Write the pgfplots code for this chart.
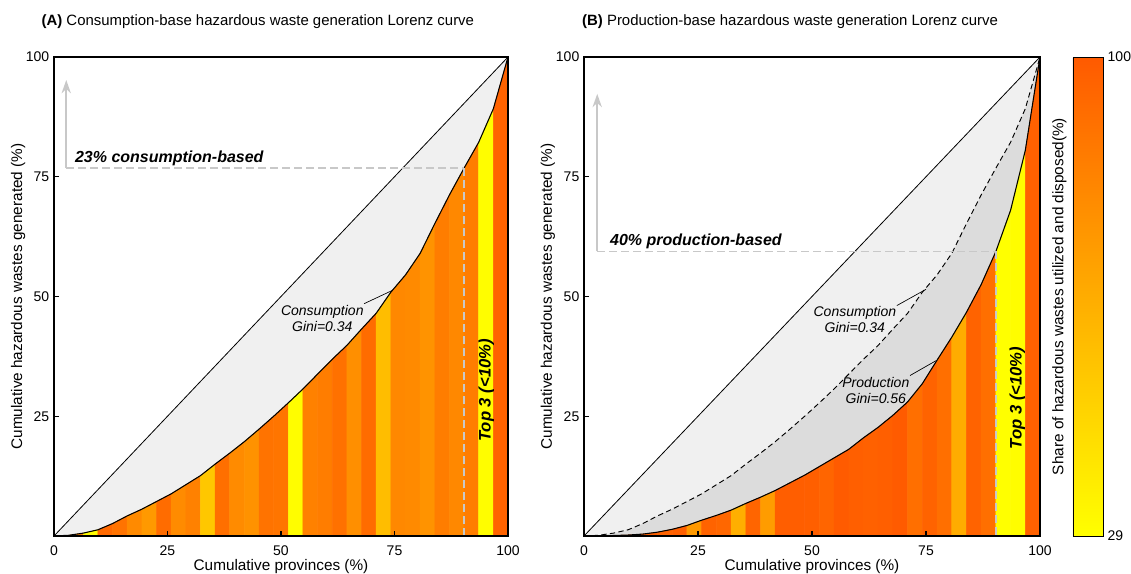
\documentclass[border=0pt]{standalone}
\usepackage{fontspec}
\setmainfont{Liberation Sans}
\usepackage{pgfplots}
\usepackage{pgfplotstable}
\pgfplotsset{compat=1.18}
\usepgfplotslibrary{patchplots}
\usetikzlibrary{arrows.meta}

\definecolor{lg}{HTML}{F0F0F0}
\definecolor{dg}{HTML}{DCDCDC}
\definecolor{dashg}{HTML}{C8C8C8}

% consumption-based Lorenz curve
\pgfplotstableread{
x y
0 0
3.226 0.15
6.452 0.6
9.677 1.3
12.903 2.6
16.129 4.2
19.355 5.6
22.581 7.2
25.806 8.8
29.032 10.7
32.258 12.6
35.484 15.0
38.710 17.3
41.935 19.7
45.161 22.3
48.387 25.0
51.613 27.8
54.839 30.7
58.065 33.8
61.290 36.9
64.516 39.8
67.742 43.2
70.968 46.5
74.194 50.9
77.419 54.5
80.645 59.0
83.871 65.2
87.097 71.2
90.323 76.8
93.548 82.2
96.774 89.2
100 100
}\cons

% production-based Lorenz curve
\pgfplotstableread{
x y
0 0
3.226 0.05
6.452 0.1
9.677 0.2
12.903 0.4
16.129 0.8
19.355 1.4
22.581 2.2
25.806 3.3
29.032 4.3
32.258 5.4
35.484 6.8
38.710 8.1
41.935 9.5
45.161 11.1
48.387 12.7
51.613 14.5
54.839 16.3
58.065 18.1
61.290 20.5
64.516 22.7
67.742 25.2
70.968 28.0
74.194 31.8
77.419 36.7
80.645 41.5
83.871 46.7
87.097 52.5
90.323 59.4
93.548 68.0
96.774 80.5
100 100
}\prod

% consumption bars: 4 corners per province, c = share utilized/disposed (%)
\pgfplotstableread{
x y c
0 0 85
3.226 0 85
3.226 0.15 85
0 0 85
3.226 0 82
6.452 0 82
6.452 0.6 82
3.226 0.15 82
6.452 0 30
9.677 0 30
9.677 1.3 30
6.452 0.6 30
9.677 0 93
12.903 0 93
12.903 2.6 93
9.677 1.3 93
12.903 0 89
16.129 0 89
16.129 4.2 89
12.903 2.6 89
16.129 0 79
19.355 0 79
19.355 5.6 79
16.129 4.2 79
19.355 0 72.5
22.581 0 72.5
22.581 7.2 72.5
19.355 5.6 72.5
22.581 0 92
25.806 0 92
25.806 8.8 92
22.581 7.2 92
25.806 0 78.5
29.032 0 78.5
29.032 10.7 78.5
25.806 8.8 78.5
29.032 0 83
32.258 0 83
32.258 12.6 83
29.032 10.7 83
32.258 0 53
35.484 0 53
35.484 15.0 53
32.258 12.6 53
35.484 0 90.5
38.710 0 90.5
38.710 17.3 90.5
35.484 15.0 90.5
38.710 0 78.5
41.935 0 78.5
41.935 19.7 78.5
38.710 17.3 78.5
41.935 0 75.5
45.161 0 75.5
45.161 22.3 75.5
41.935 19.7 75.5
45.161 0 89
48.387 0 89
48.387 25.0 89
45.161 22.3 89
48.387 0 88
51.613 0 88
51.613 27.8 88
48.387 25.0 88
51.613 0 30
54.839 0 30
54.839 30.7 30
51.613 27.8 30
54.839 0 83
58.065 0 83
58.065 33.8 83
54.839 30.7 83
58.065 0 84.5
61.290 0 84.5
61.290 36.9 84.5
58.065 33.8 84.5
61.290 0 89.5
64.516 0 89.5
64.516 39.8 89.5
61.290 36.9 89.5
64.516 0 77
67.742 0 77
67.742 43.2 77
64.516 39.8 77
67.742 0 92
70.968 0 92
70.968 46.5 92
67.742 43.2 92
70.968 0 57
74.194 0 57
74.194 50.9 57
70.968 46.5 57
74.194 0 80
77.419 0 80
77.419 54.5 80
74.194 50.9 80
77.419 0 79
80.645 0 79
80.645 59.0 79
77.419 54.5 79
80.645 0 75
83.871 0 75
83.871 65.2 75
80.645 59.0 75
83.871 0 84.5
87.097 0 84.5
87.097 71.2 84.5
83.871 65.2 84.5
87.097 0 80
90.323 0 80
90.323 76.8 80
87.097 71.2 80
90.323 0 84.5
93.548 0 84.5
93.548 82.2 84.5
90.323 76.8 84.5
93.548 0 30
96.774 0 30
96.774 89.2 30
93.548 82.2 30
96.774 0 95.5
100 0 95.5
100 100 95.5
96.774 89.2 95.5
}\cbars

% production bars
\pgfplotstableread{
x y c
0 0 97
3.226 0 97
3.226 0.05 97
0 0 97
3.226 0 97
6.452 0 97
6.452 0.1 97
3.226 0.05 97
6.452 0 97
9.677 0 97
9.677 0.2 97
6.452 0.1 97
9.677 0 96.5
12.903 0 96.5
12.903 0.4 96.5
9.677 0.2 96.5
12.903 0 97.5
16.129 0 97.5
16.129 0.8 97.5
12.903 0.4 97.5
16.129 0 95.5
19.355 0 95.5
19.355 1.4 95.5
16.129 0.8 95.5
19.355 0 97.5
22.581 0 97.5
22.581 2.2 97.5
19.355 1.4 97.5
22.581 0 72.5
25.806 0 72.5
25.806 3.3 72.5
22.581 2.2 72.5
25.806 0 95.5
29.032 0 95.5
29.032 4.3 95.5
25.806 3.3 95.5
29.032 0 94
32.258 0 94
32.258 5.4 94
29.032 4.3 94
32.258 0 63
35.484 0 63
35.484 6.8 63
32.258 5.4 63
35.484 0 95
38.710 0 95
38.710 8.1 95
35.484 6.8 95
38.710 0 71.5
41.935 0 71.5
41.935 9.5 71.5
38.710 8.1 71.5
41.935 0 98
45.161 0 98
45.161 11.1 98
41.935 9.5 98
45.161 0 98
48.387 0 98
48.387 12.7 98
45.161 11.1 98
48.387 0 97.5
51.613 0 97.5
51.613 14.5 97.5
48.387 12.7 97.5
51.613 0 95
54.839 0 95
54.839 16.3 95
51.613 14.5 95
54.839 0 99
58.065 0 99
58.065 18.1 99
54.839 16.3 99
58.065 0 97.5
61.290 0 97.5
61.290 20.5 97.5
58.065 18.1 97.5
61.290 0 96.5
64.516 0 96.5
64.516 22.7 96.5
61.290 20.5 96.5
64.516 0 97.5
67.742 0 97.5
67.742 25.2 97.5
64.516 22.7 97.5
67.742 0 99
70.968 0 99
70.968 28.0 99
67.742 25.2 99
70.968 0 90.5
74.194 0 90.5
74.194 31.8 90.5
70.968 28.0 90.5
74.194 0 95.5
77.419 0 95.5
77.419 36.7 95.5
74.194 31.8 95.5
77.419 0 90.5
80.645 0 90.5
80.645 41.5 90.5
77.419 36.7 90.5
80.645 0 64.5
83.871 0 64.5
83.871 46.7 64.5
80.645 41.5 64.5
83.871 0 95.5
87.097 0 95.5
87.097 52.5 95.5
83.871 46.7 95.5
87.097 0 90.5
90.323 0 90.5
90.323 59.4 90.5
87.097 52.5 90.5
90.323 0 29
93.548 0 29
93.548 68.0 29
90.323 59.4 29
93.548 0 30
96.774 0 30
96.774 80.5 30
93.548 68.0 30
96.774 0 96.5
100 0 96.5
100 100 96.5
96.774 80.5 96.5
}\pbars

\pgfplotsset{
  lorenz/.style={
    scale only axis, height=359.25pt,
    xmin=0, xmax=100, ymin=0, ymax=100,
    xtick={0,25,50,75,100}, ytick={25,50,75,100},
    xtick pos=bottom, ytick pos=left, tick align=inside,
    major tick length=3.5pt,
    tick style={black, line width=0.8pt},
    axis line style={line width=0.8pt},
    axis on top,
    /pgf/number format/assume math mode=true,
    ticklabel style={font=\fontsize{10.5}{12}\selectfont},
    xticklabel style={anchor=base, yshift=-14.5pt},
    label style={font=\fontsize{11.5}{13}\selectfont},
    xlabel style={at={(axis description cs:0.5,0)}, anchor=base, yshift=-26pt},
    xlabel={Cumulative provinces (\%)},
    ylabel={Cumulative hazardous wastes generated (\%)},
    colormap={hw}{rgb255=(255,255,0) rgb255=(255,90,0)},
    point meta min=29, point meta max=100,
  },
  barsty/.style={patch, patch type=rectangle, shader=flat, point meta=explicit},
}

\begin{document}
\begin{tikzpicture}
\path[use as bounding box] (0,0) rectangle (848.25pt,430.5pt);

% ---------------- Panel A ----------------
\begin{axis}[lorenz, at={(40.5pt,28.5pt)}, anchor=south west, width=340.5pt,
  ylabel style={at={(axis description cs:-0.079,0.5)}, anchor=center},
  title style={at={(axis description cs:0.449,1)}, anchor=base, yshift=17.5pt, font=\fontsize{11.2}{13}\selectfont},
  title={\textbf{(A)} Consumption-base hazardous waste generation Lorenz curve}]
  \addplot[fill=lg, draw=none] table[x=x,y=y] {\cons};
  \addplot[barsty] table[x=x,y=y,meta=c] {\cbars};
  \addplot[black, line width=0.6pt] coordinates {(0,0) (100,100)};
  \addplot[black, line width=0.8pt] table[x=x,y=y] {\cons};
  \draw[dashg, line width=1.1pt, dash pattern=on 6pt off 3pt] (axis cs:2.7,76.8) -- (axis cs:90.323,76.8);
  \draw[dashg, line width=1.1pt, dash pattern=on 6pt off 3pt] (axis cs:90.323,76.8) -- (axis cs:90.323,0);
  \draw[dashg, line width=1.3pt, -{Stealth[length=10pt,width=7pt]}] (axis cs:2.7,76.8) -- (axis cs:2.7,95.2);
  \node[anchor=base west, font=\fontsize{12}{14}\selectfont\bfseries\itshape] at (axis cs:3.6,78.0) {23\% consumption-based};
  \node[rotate=90, font=\fontsize{12.5}{14}\selectfont\bfseries\itshape] at (axis cs:95.2,30.4) {Top 3 (<10\%)};
  \node[align=center, font=\fontsize{10.5}{12}\selectfont\itshape] at (axis cs:59.1,45.4) {Consumption\\Gini=0.34};
  \draw[black, line width=0.5pt] (axis cs:68.3,48.5) -- (axis cs:74.6,51.3);
\end{axis}

% ---------------- Panel B ----------------
\begin{axis}[lorenz, at={(438pt,28.5pt)}, anchor=south west, width=342pt,
  ylabel style={at={(axis description cs:-0.079,0.5)}, anchor=center},
  title style={at={(axis description cs:0.452,1)}, anchor=base, yshift=17.5pt, font=\fontsize{11.2}{13}\selectfont},
  title={\textbf{(B)} Production-base hazardous waste generation Lorenz curve},
  colorbar,
  colorbar/width=22.5pt,
  colorbar style={
    at={(parent axis.north east)}, anchor=north west, xshift=16.2pt,
    scale only axis, height=359.25pt,
    ytick={29,100},
    major tick length=2pt,
    tick style={black, line width=0.5pt},
    axis line style={line width=0.6pt},
    /pgf/number format/assume math mode=true,
    yticklabel style={font=\fontsize{10.5}{12}\selectfont},
    ylabel={Share of hazardous wastes utilized and disposed(\%)},
    ylabel style={at={(axis description cs:-0.06,0.5)}, anchor=south, font=\fontsize{11.5}{13}\selectfont},
  }]
  \addplot[fill=dg, draw=none] table[x=x,y=y] {\prod};
  \addplot[fill=lg, draw=none] table[x=x,y=y] {\cons};
  \addplot[barsty] table[x=x,y=y,meta=c] {\pbars};
  \addplot[black, line width=0.6pt] coordinates {(0,0) (100,100)};
  \addplot[black, line width=0.7pt, dash pattern=on 4pt off 2.5pt] table[x=x,y=y] {\cons};
  \addplot[black, line width=0.8pt] table[x=x,y=y] {\prod};
  \draw[dashg, line width=1.1pt, dash pattern=on 6pt off 3pt] (axis cs:2.9,59.4) -- (axis cs:90.323,59.4);
  \draw[dashg, line width=1.1pt, dash pattern=on 6pt off 3pt] (axis cs:90.323,59.4) -- (axis cs:90.323,0);
  \draw[dashg, line width=1.3pt, -{Stealth[length=10pt,width=7pt]}] (axis cs:2.9,59.4) -- (axis cs:2.9,92.3);
  \node[anchor=base west, font=\fontsize{12}{14}\selectfont\bfseries\itshape] at (axis cs:4.7,60.6) {40\% production-based};
  \node[rotate=90, font=\fontsize{12.5}{14}\selectfont\bfseries\itshape] at (axis cs:95.0,28.8) {Top 3 (<10\%)};
  \node[align=center, font=\fontsize{10.5}{12}\selectfont\itshape] at (axis cs:59.4,45.3) {Consumption\\Gini=0.34};
  \draw[black, line width=0.5pt] (axis cs:68.6,48.1) -- (axis cs:75.0,51.5);
  \node[align=center, font=\fontsize{10.5}{12}\selectfont\itshape] at (axis cs:64.0,30.4) {Production\\Gini=0.56};
  \draw[black, line width=0.5pt] (axis cs:71.5,33.5) -- (axis cs:77.2,36.6);
\end{axis}
\end{tikzpicture}
\end{document}
